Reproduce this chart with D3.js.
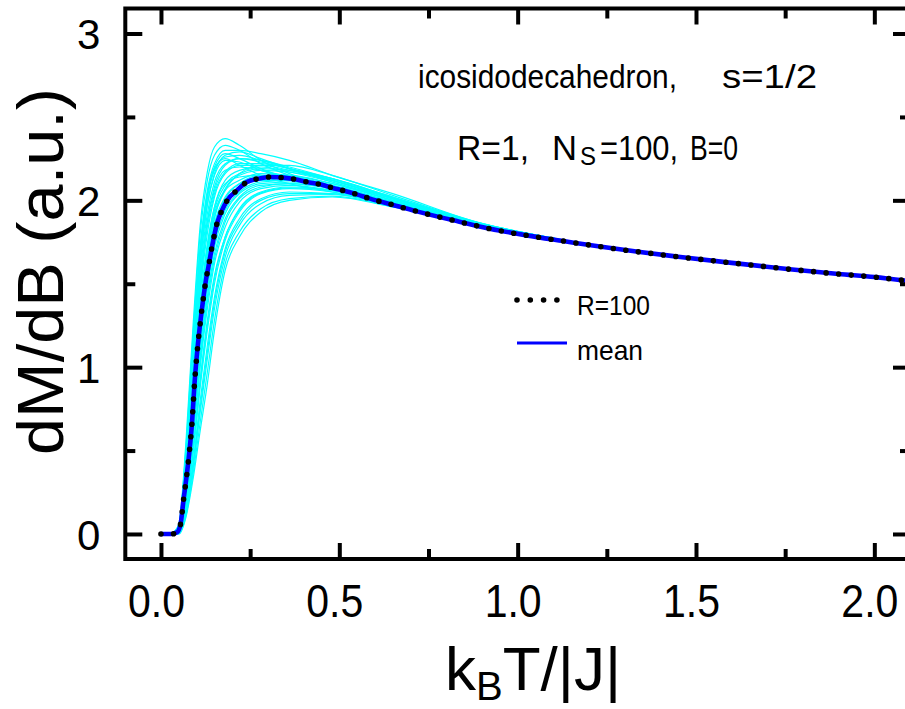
<!DOCTYPE html>
<html>
<head>
<meta charset="utf-8">
<script src="https://cdn.jsdelivr.net/npm/d3@7"></script>
<style>
  body { margin: 0; background: #fff; }
  svg { display: block; }
  text { font-family: "Liberation Sans", Arial, sans-serif; fill: #000; }
</style>
</head>
<body>
<div id="chart"></div>
<script>
// x positions shared by the cyan sample curves (k_B T/|J|)
const sampleT = [0.03, 0.05, 0.07, 0.09, 0.11, 0.13, 0.15, 0.18, 0.22, 0.28, 0.36, 0.48, 0.65, 0.90, 1.15];

// dM/dB of individual random-vector samples (R=1)
const sampleCurves = [
  [0, 0.06, 0.55, 1.25, 1.85, 2.17, 2.32, 2.37, 2.33, 2.24, 2.16, 2.08, 1.99, 1.855, 1.752],
  [0, 0.05, 0.48, 1.12, 1.72, 2.06, 2.22, 2.30, 2.30, 2.28, 2.24, 2.15, 2.04, 1.860, 1.754],
  [0, 0.04, 0.42, 1.02, 1.60, 1.97, 2.16, 2.27, 2.29, 2.25, 2.19, 2.11, 2.01, 1.858, 1.753],
  [0, 0.05, 0.50, 1.15, 1.72, 2.04, 2.20, 2.28, 2.25, 2.19, 2.13, 2.07, 1.985, 1.852, 1.752],
  [0, 0.03, 0.38, 0.95, 1.50, 1.88, 2.08, 2.21, 2.25, 2.24, 2.20, 2.13, 2.02, 1.858, 1.753],
  [0, 0.04, 0.44, 1.05, 1.62, 1.98, 2.15, 2.24, 2.23, 2.18, 2.13, 2.07, 1.985, 1.852, 1.751],
  [0, 0.03, 0.36, 0.90, 1.44, 1.80, 2.02, 2.16, 2.21, 2.21, 2.18, 2.12, 2.01, 1.856, 1.752],
  [0, 0.03, 0.40, 0.97, 1.52, 1.87, 2.06, 2.18, 2.20, 2.18, 2.14, 2.08, 1.99, 1.850, 1.751],
  [0, 0.03, 0.34, 0.85, 1.36, 1.72, 1.96, 2.12, 2.18, 2.20, 2.17, 2.11, 2.00, 1.855, 1.752],
  [0, 0.02, 0.30, 0.80, 1.30, 1.66, 1.90, 2.07, 2.15, 2.18, 2.17, 2.12, 2.01, 1.856, 1.752],
  [0, 0.03, 0.35, 0.86, 1.38, 1.74, 1.96, 2.10, 2.14, 2.15, 2.13, 2.08, 1.99, 1.850, 1.750],
  [0, 0.02, 0.30, 0.78, 1.28, 1.63, 1.86, 2.02, 2.10, 2.14, 2.14, 2.09, 1.99, 1.848, 1.750],
  [0, 0.02, 0.27, 0.72, 1.20, 1.56, 1.80, 1.98, 2.08, 2.13, 2.13, 2.09, 1.99, 1.849, 1.750],
  [0, 0.02, 0.25, 0.68, 1.14, 1.50, 1.75, 1.94, 2.05, 2.11, 2.12, 2.08, 1.985, 1.847, 1.749],
  [0, 0.02, 0.22, 0.62, 1.06, 1.42, 1.68, 1.89, 2.02, 2.09, 2.10, 2.07, 1.98, 1.846, 1.749],
  [0, 0.01, 0.20, 0.57, 1.00, 1.35, 1.62, 1.84, 1.99, 2.07, 2.09, 2.06, 1.975, 1.845, 1.749],
  [0, 0.01, 0.18, 0.52, 0.93, 1.28, 1.55, 1.78, 1.95, 2.05, 2.08, 2.06, 1.975, 1.845, 1.749],
  [0, 0.01, 0.16, 0.48, 0.88, 1.22, 1.50, 1.76, 1.93, 2.04, 2.07, 2.05, 1.97, 1.844, 1.748],
  [0, 0.01, 0.14, 0.43, 0.80, 1.13, 1.42, 1.71, 1.89, 2.01, 2.05, 2.04, 1.97, 1.843, 1.748],
  [0, 0.01, 0.12, 0.39, 0.73, 1.05, 1.35, 1.66, 1.85, 1.98, 2.03, 2.035, 1.965, 1.842, 1.748],
  [0, 0.00, 0.11, 0.36, 0.67, 0.97, 1.28, 1.62, 1.81, 1.95, 2.01, 2.025, 1.962, 1.841, 1.747],
  [0, 0.00, 0.10, 0.33, 0.62, 0.90, 1.22, 1.58, 1.78, 1.93, 2.00, 2.02, 1.96, 1.840, 1.747],
  [0, 0.05, 0.52, 1.20, 1.80, 2.12, 2.27, 2.33, 2.30, 2.22, 2.15, 2.08, 1.99, 1.855, 1.752],
  [0, 0.04, 0.46, 1.08, 1.66, 2.01, 2.18, 2.26, 2.27, 2.24, 2.19, 2.12, 2.01, 1.858, 1.753],
  [0, 0.04, 0.40, 0.99, 1.56, 1.92, 2.11, 2.22, 2.25, 2.23, 2.19, 2.12, 2.01, 1.858, 1.753],
  [0, 0.03, 0.37, 0.92, 1.47, 1.84, 2.04, 2.17, 2.22, 2.22, 2.19, 2.13, 2.015, 1.860, 1.754],
  [0, 0.03, 0.33, 0.84, 1.35, 1.71, 1.94, 2.09, 2.16, 2.19, 2.18, 2.13, 2.02, 1.860, 1.754],
  [0, 0.03, 0.32, 0.82, 1.33, 1.69, 1.92, 2.06, 2.12, 2.16, 2.15, 2.10, 2.00, 1.855, 1.752],
  [0, 0.02, 0.28, 0.75, 1.24, 1.60, 1.84, 2.01, 2.10, 2.15, 2.15, 2.10, 2.00, 1.853, 1.752],
  [0, 0.02, 0.26, 0.70, 1.17, 1.53, 1.78, 1.96, 2.07, 2.12, 2.12, 2.085, 1.99, 1.850, 1.751],
  [0, 0.02, 0.24, 0.65, 1.10, 1.46, 1.72, 1.92, 2.04, 2.10, 2.11, 2.075, 1.985, 1.849, 1.751],
  [0, 0.01, 0.21, 0.60, 1.03, 1.39, 1.65, 1.87, 2.01, 2.08, 2.10, 2.07, 1.98, 1.848, 1.751],
  [0, 0.01, 0.17, 0.50, 0.91, 1.25, 1.53, 1.78, 1.94, 2.045, 2.075, 2.06, 1.975, 1.847, 1.750],
  [0, 0.01, 0.13, 0.41, 0.76, 1.09, 1.39, 1.69, 1.87, 2.00, 2.04, 2.04, 1.97, 1.845, 1.750],
  [0, 0.05, 0.47, 1.10, 1.69, 2.03, 2.19, 2.25, 2.21, 2.15, 2.10, 2.05, 1.98, 1.850, 1.751],
  [0, 0.02, 0.29, 0.77, 1.27, 1.64, 1.89, 2.06, 2.16, 2.21, 2.21, 2.15, 2.03, 1.862, 1.752]
];

// mean over the samples (blue) - the R=100 dotted curve lies on top of it
const meanT = [0, 0.03, 0.045, 0.055, 0.063, 0.073, 0.08, 0.087, 0.094, 0.1025, 0.11, 0.118, 0.126,
  0.133, 0.143, 0.157, 0.171, 0.187, 0.213, 0.241, 0.273, 0.306, 0.343, 0.376, 0.409, 0.446, 0.479,
  0.516, 0.549, 0.586, 0.638, 0.717, 0.82, 0.922, 1.025, 1.128, 1.24, 1.343, 1.45, 1.6, 1.75, 1.9, 2.0, 2.1];
const meanM = [0, 0, 0.01, 0.06, 0.2, 0.365, 0.5, 0.665, 0.9, 1.114, 1.263, 1.401, 1.521,
  1.601, 1.72, 1.86, 1.94, 2.004, 2.06, 2.11, 2.13, 2.14, 2.136, 2.126, 2.11, 2.096, 2.076,
  2.056, 2.036, 2.01, 1.98, 1.934, 1.88, 1.83, 1.79, 1.756, 1.72, 1.69, 1.662, 1.625, 1.59, 1.558, 1.54, 1.515];
const r100M = meanM.slice();

const xMajor = [0, 0.5, 1.0, 1.5, 2.0];
const xMinor = [0.25, 0.75, 1.25, 1.75];
const yMajor = [0, 1, 2, 3];
const yMinor = [0.5, 1.5, 2.5];

const width = 905, height = 709;

const svg = d3.select("#chart").append("svg")
  .attr("width", width)
  .attr("height", height);

const x = d3.scaleLinear().domain([-0.1, 2.1]).range([125.3, 910]);
const y = d3.scaleLinear().domain([-0.15, 3.15]).range([559, 8.5]);

svg.append("clipPath").attr("id", "plot-clip")
  .append("rect")
  .attr("x", x(-0.1)).attr("y", y(3.15))
  .attr("width", x(2.1) - x(-0.1)).attr("height", y(-0.15) - y(3.15));

const line = d3.line()
  .x(d => x(d[0]))
  .y(d => y(d[1]))
  .curve(d3.curveMonotoneX);

const plot = svg.append("g").attr("clip-path", "url(#plot-clip)");

// tail beyond the last sample point, where every curve merges with the mean
const tail = meanT.map((t, i) => [t, meanM[i]]).filter(d => d[0] > sampleT[sampleT.length - 1]);

// cyan sample curves
plot.append("g")
  .selectAll("path")
  .data(sampleCurves)
  .join("path")
  .attr("d", c => line(sampleT.map((t, i) => [t, c[i]]).concat(tail)))
  .attr("fill", "none")
  .attr("stroke", "#00ffff")
  .attr("stroke-width", 1.2);

// mean (blue)
plot.append("path")
  .attr("d", line(meanT.map((t, i) => [t, meanM[i]])))
  .attr("fill", "none")
  .attr("stroke", "#0000ff")
  .attr("stroke-width", 4.6)
  .attr("stroke-linejoin", "round");

// R=100 (black dots)
plot.append("path")
  .attr("d", line(meanT.map((t, i) => [t, r100M[i]])))
  .attr("fill", "none")
  .attr("stroke", "#000")
  .attr("stroke-width", 5.6)
  .attr("stroke-linecap", "round")
  .attr("stroke-dasharray", "0,12.6");

// frame
svg.append("rect")
  .attr("x", x(-0.1)).attr("y", y(3.15))
  .attr("width", x(2.1) - x(-0.1)).attr("height", y(-0.15) - y(3.15))
  .attr("fill", "none")
  .attr("stroke", "#000")
  .attr("stroke-width", 4);

function styleAxis(g) {
  g.select(".domain").remove();
  g.selectAll(".tick line").attr("stroke", "#000").attr("stroke-width", 4);
}

// bottom axis with labels
svg.append("g")
  .attr("transform", `translate(0,${y(-0.15)})`)
  .call(d3.axisBottom(x).tickValues(xMajor).tickSize(-16).tickFormat(d3.format(".1f")))
  .call(styleAxis)
  .call(g => g.selectAll(".tick text")
    .attr("y", 58).attr("dy", 0).attr("dx", -5)
    .attr("font-size", 46)
    .attr("font-family", null)
    .attr("fill", "#000")
    .attr("textLength", 57)
    .attr("lengthAdjust", "spacingAndGlyphs"));

svg.append("g")
  .attr("transform", `translate(0,${y(-0.15)})`)
  .call(d3.axisBottom(x).tickValues(xMinor).tickSize(-10).tickFormat(""))
  .call(styleAxis);

// top axis
svg.append("g")
  .attr("transform", `translate(0,${y(3.15)})`)
  .call(d3.axisTop(x).tickValues(xMajor).tickSize(-16).tickFormat(""))
  .call(styleAxis);
svg.append("g")
  .attr("transform", `translate(0,${y(3.15)})`)
  .call(d3.axisTop(x).tickValues(xMinor).tickSize(-10).tickFormat(""))
  .call(styleAxis);

// left axis with labels
svg.append("g")
  .attr("transform", `translate(${x(-0.1)},0)`)
  .call(d3.axisLeft(y).tickValues(yMajor).tickSize(-17).tickFormat(d3.format("d")))
  .call(styleAxis)
  .call(g => g.selectAll(".tick text")
    .attr("x", -25).attr("dy", "0.36em")
    .attr("font-size", 42)
    .attr("font-family", null)
    .attr("fill", "#000"));
svg.append("g")
  .attr("transform", `translate(${x(-0.1)},0)`)
  .call(d3.axisLeft(y).tickValues(yMinor).tickSize(-10).tickFormat(""))
  .call(styleAxis);

// right axis
svg.append("g")
  .attr("transform", `translate(${x(2.1)},0)`)
  .call(d3.axisRight(y).tickValues(yMajor).tickSize(-17).tickFormat(""))
  .call(styleAxis);
svg.append("g")
  .attr("transform", `translate(${x(2.1)},0)`)
  .call(d3.axisRight(y).tickValues(yMinor).tickSize(-10).tickFormat(""))
  .call(styleAxis);

// axis titles
svg.append("text")
  .attr("transform", "translate(63,271.5) rotate(-90)")
  .attr("text-anchor", "middle")
  .attr("font-size", 64)
  .attr("textLength", 367)
  .attr("lengthAdjust", "spacingAndGlyphs")
  .text("dM/dB (a.u.)");

const xTitle = svg.append("text")
  .attr("x", 445).attr("y", 690)
  .attr("font-size", 62);
xTitle.append("tspan").text("k");
xTitle.append("tspan").attr("font-size", 40).attr("dy", 10).text("B");
xTitle.append("tspan").attr("dy", -10).text("T/|J|");

// annotation
const note = [
  { txt: "icosidodecahedron,", x: 418, y: 88, size: 33, len: 259 },
  { txt: "s=1/2", x: 722, y: 88, size: 33, len: 95 },
  { txt: "R=1,", x: 457, y: 160, size: 35, len: 72 },
  { txt: "N", x: 552, y: 160, size: 35, len: 25 },
  { txt: "S", x: 580, y: 165, size: 25, len: 16 },
  { txt: "=100,", x: 600, y: 160, size: 35, len: 78 },
  { txt: "B=0", x: 690, y: 160, size: 35, len: 48 }
];
svg.append("g")
  .selectAll("text")
  .data(note)
  .join("text")
  .attr("x", d => d.x).attr("y", d => d.y)
  .attr("font-size", d => d.size)
  .attr("textLength", d => d.len)
  .attr("lengthAdjust", "spacingAndGlyphs")
  .text(d => d.txt);

// legend
const legend = svg.append("g");
legend.append("line")
  .attr("x1", 517).attr("x2", 558).attr("y1", 300).attr("y2", 300)
  .attr("stroke", "#000").attr("stroke-width", 5.6)
  .attr("stroke-linecap", "round").attr("stroke-dasharray", "0,13.3");
legend.append("text")
  .attr("x", 577).attr("y", 315).attr("font-size", 28)
  .attr("textLength", 73).attr("lengthAdjust", "spacingAndGlyphs")
  .text("R=100");
legend.append("line")
  .attr("x1", 517).attr("x2", 567).attr("y1", 343).attr("y2", 343)
  .attr("stroke", "#0000ff").attr("stroke-width", 3);
legend.append("text")
  .attr("x", 577).attr("y", 360).attr("font-size", 28)
  .attr("textLength", 66).attr("lengthAdjust", "spacingAndGlyphs")
  .text("mean");
</script>
</body>
</html>
